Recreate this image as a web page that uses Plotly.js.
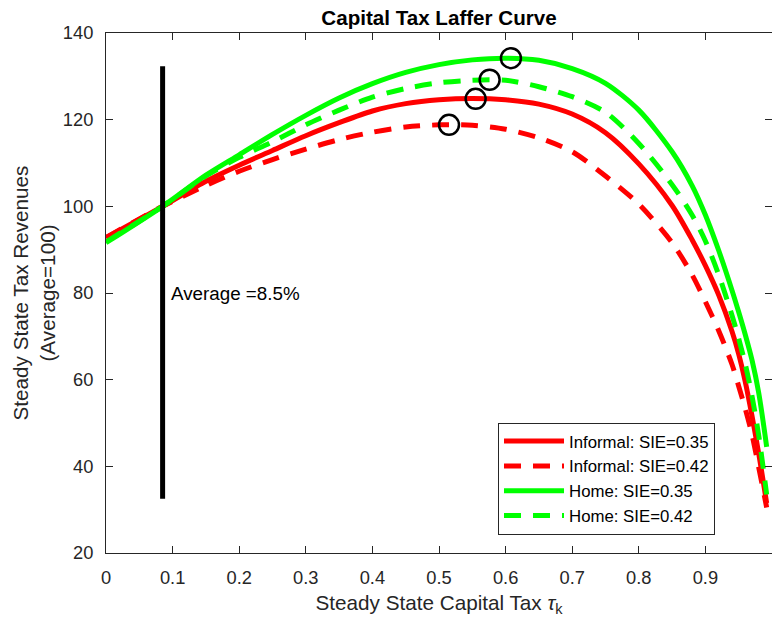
<!DOCTYPE html>
<html>
<head>
<meta charset="utf-8">
<script src="https://cdn.plot.ly/plotly-3.0.1.min.js"></script>
<style>html,body{margin:0;padding:0;background:#fff;}</style>
</head>
<body>
<div id="chart" style="width:772px;height:621px;"></div>
<script>
// Capital tax rate grid (x)
var taxRate = [0, 0.085, 0.15, 0.2, 0.25, 0.3, 0.35, 0.4, 0.45, 0.5, 0.55, 0.6, 0.65, 0.7, 0.75, 0.8, 0.85, 0.88, 0.9, 0.92, 0.94, 0.95, 0.96, 0.97, 0.98, 0.992];
// Steady state tax revenues (Average = 100)
var informal035 = [92.8, 100, 105.8, 109.5, 112.9, 116.3, 119.3, 122.0, 123.7, 124.6, 124.9, 124.6, 123.6, 121.3, 117.0, 109.8, 100.2, 92.3, 86.3, 79.5, 71.1, 65.9, 59.4, 51.6, 43.0, 31.5];
var informal042 = [92.8, 100, 104.8, 108.1, 110.8, 113.2, 115.4, 117.1, 118.3, 118.8, 118.7, 117.8, 115.8, 112.6, 107.0, 100.5, 91.6, 84.2, 78.0, 71.3, 63.5, 58.5, 53.2, 47.3, 39.8, 30.5];
var home035 = [91.6, 100, 107.2, 111.9, 116.6, 121.0, 125.0, 128.3, 130.9, 132.7, 133.8, 134.2, 133.7, 131.8, 128.4, 122.2, 112.6, 104.8, 98.0, 89.8, 80.6, 75.6, 70.3, 64.5, 57.0, 44.5];
var home042 = [91.8, 100, 107.0, 111.3, 114.9, 118.8, 122.2, 125.2, 127.2, 128.5, 129.1, 129.1, 127.6, 125.3, 121.7, 114.5, 105.0, 98.0, 92.0, 84.2, 74.8, 69.5, 63.5, 56.2, 47.2, 33.5];
var seriesNames = ["Informal: SIE=0.35", "Informal: SIE=0.42", "Home: SIE=0.35", "Home: SIE=0.42"];
// Revenue-maximising points (circles)
var peakX = [0.608, 0.576, 0.555, 0.515];
var peakY = [134.2, 129.2, 124.8, 118.8];
// Average capital tax marker
var avgTax = [0.085, 0.085];
var avgLineY = [32.5, 132.3];
var avgLabel = "Average =8.5%";
var avgLabelPos = [0.094, 80];
var xTicks = [0, 0.1, 0.2, 0.3, 0.4, 0.5, 0.6, 0.7, 0.8, 0.9, 1];
var xTickText = ["0", "0.1", "0.2", "0.3", "0.4", "0.5", "0.6", "0.7", "0.8", "0.9", "1"];
var yTicks = [20, 40, 60, 80, 100, 120, 140];

var FONT = "Liberation Sans, Arial, Helvetica, sans-serif";
var dashPat = "17px,12px";

function curve(y, name, color, dash) {
  var line = {color: color, width: 5, shape: "spline", smoothing: 0.8};
  if (dash) line.dash = dash;
  return {x: taxRate, y: y, name: name, mode: "lines", line: line};
}

var traces = [
  curve(informal035, seriesNames[0], "#ff0000", null),
  curve(informal042, seriesNames[1], "#ff0000", dashPat),
  curve(home035, seriesNames[2], "#00ff00", null),
  curve(home042, seriesNames[3], "#00ff00", dashPat),
  {x: avgTax, y: avgLineY, mode: "lines", showlegend: false, line: {color: "#000000", width: 5}, hoverinfo: "skip"},
  {x: peakX, y: peakY, mode: "markers", showlegend: false,
   marker: {symbol: "circle-open", size: 20, color: "#000000", line: {width: 2.5, color: "#000000"}}}
];

var axisCommon = {
  showgrid: false, zeroline: false, showline: true, linecolor: "#262626", linewidth: 1,
  mirror: "ticks", ticks: "inside", ticklen: 7, tickwidth: 1, tickcolor: "#262626",
  tickfont: {family: FONT, size: 18.3, color: "#262626"}
};

var layout = {
  width: 772, height: 621,
  margin: {l: 106, r: 0, t: 33, b: 68, pad: 0},
  paper_bgcolor: "#ffffff", plot_bgcolor: "#ffffff",
  font: {family: FONT, color: "#262626"},
  title: {text: "<b>Capital Tax Laffer Curve</b>", font: {family: FONT, size: 20.6, color: "#000000"},
          xref: "paper", x: 0.5, xanchor: "center", yref: "container", y: 1 - 17.5 / 621, yanchor: "middle"},
  xaxis: Object.assign({}, axisCommon, {
    range: [0, 1], tickmode: "array", tickvals: xTicks, ticktext: xTickText, ticklabelstandoff: 8,
    title: {text: "Steady State Capital Tax <i>τ</i><sub>k</sub>", font: {family: FONT, size: 20.7, color: "#262626"}, standoff: 8}
  }),
  yaxis: Object.assign({}, axisCommon, {
    range: [20, 140], tickmode: "array", tickvals: yTicks, ticklabelstandoff: 8,
    title: {text: "Steady State Tax Revenues<br>(Average=100)", font: {family: FONT, size: 20.7, color: "#262626"}, standoff: 1.5}
  }),
  legend: {
    x: 0.5886, y: 0.2507, xanchor: "left", yanchor: "top",
    bgcolor: "#ffffff", bordercolor: "#262626", borderwidth: 1,
    font: {family: FONT, size: 16.8, color: "#000000"},
    itemwidth: 60, tracegroupgap: 0
  },
  annotations: [{
    x: avgLabelPos[0], y: avgLabelPos[1], xref: "x", yref: "y", text: avgLabel, showarrow: false,
    xanchor: "left", yanchor: "middle", font: {family: FONT, size: 18.8, color: "#000000"}
  }],
  showlegend: true
};

Plotly.newPlot("chart", traces, layout, {displayModeBar: false, staticPlot: true});
</script>
</body>
</html>
